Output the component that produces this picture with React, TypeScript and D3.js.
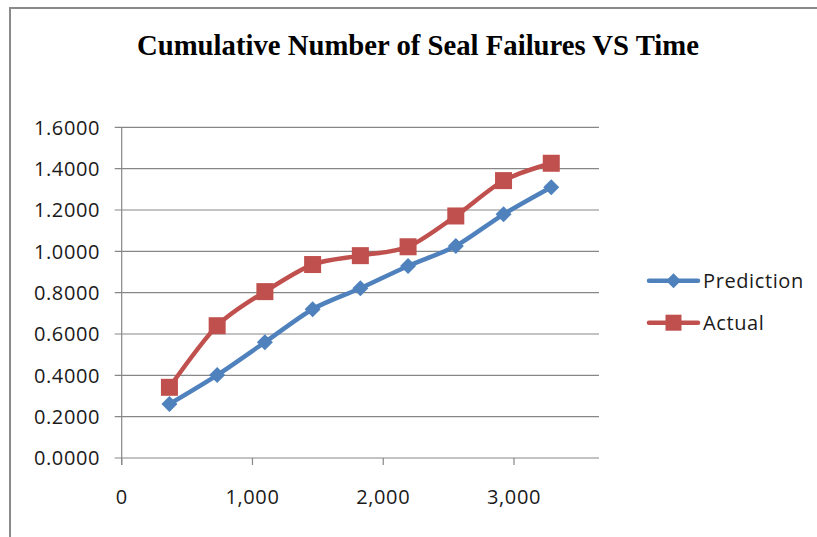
import React from "react";
import * as d3 from "d3";

const times = [365, 730, 1095, 1460, 1825, 2190, 2555, 2920, 3285];
const prediction = [0.261, 0.401, 0.56, 0.72, 0.821, 0.929, 1.026, 1.179, 1.31];
const actual = [0.342, 0.64, 0.805, 0.936, 0.979, 1.022, 1.171, 1.342, 1.426];
const xTicks = [0, 1000, 2000, 3000];
const yTicks = [0, 0.2, 0.4, 0.6, 0.8, 1.0, 1.2, 1.4, 1.6];
const seriesNames = ["Prediction", "Actual"];
const title = "Cumulative Number of Seal Failures VS Time";

const W = 817;
const H = 537;
const BLUE = "#4F81BD";
const RED = "#C0504D";
const GRID = "#878787";
const TEXT = "#1a1a1a";
const FONT = "'Open Sans', 'Noto Sans', sans-serif";

export default function App() {
  const x = d3.scaleLinear().domain([0, 3650]).range([121.7, 599]);
  const y = d3.scaleLinear().domain([0, 1.6]).range([458, 127.3]);
  const fmtX = d3.format(",");
  const fmtY = d3.format(".4f");

  const line = d3
    .line<[number, number]>()
    .x((d) => x(d[0]))
    .y((d) => y(d[1]))
    .curve(d3.curveCardinal.tension(0.15));

  const predPts: [number, number][] = times.map((t, i) => [t, prediction[i]]);
  const actPts: [number, number][] = times.map((t, i) => [t, actual[i]]);

  const diamond = (cx: number, cy: number, r: number) =>
    `M${cx},${cy - r}L${cx + r},${cy}L${cx},${cy + r}L${cx - r},${cy}Z`;

  const x0 = x(0);
  const y0 = y(0);

  return (
    <svg
      width={W}
      height={H}
      style={{ position: "absolute", left: 0, top: 0, background: "#fff" }}
    >
      <rect x={0} y={0} width={W} height={H} fill="#fff" />
      {/* chart frame */}
      <path d={`M10,${H + 5}L10,8L${W + 5},8`} fill="none" stroke="#8a8a8a" strokeWidth={2} />

      <text
        x={418}
        y={55}
        textAnchor="middle"
        fontFamily="'Liberation Serif', 'Times New Roman', serif"
        fontWeight="bold"
        fontSize={29}
        textLength={562}
        lengthAdjust="spacingAndGlyphs"
        fill="#000"
      >
        {title}
      </text>

      {/* gridlines and y ticks */}
      {yTicks.map((v) => (
        <g key={v}>
          <line x1={x0 - 7} x2={599} y1={y(v)} y2={y(v)} stroke={GRID} strokeWidth={1.2} />
          <text
            x={100}
            y={y(v)}
            dy="0.36em"
            textAnchor="end"
            fontFamily={FONT}
            fontSize={20}
            letterSpacing={0.6}
            fill={TEXT}
          >
            {fmtY(v)}
          </text>
        </g>
      ))}

      {/* y axis */}
      <line x1={x0} x2={x0} y1={y(1.6)} y2={y0 + 7} stroke={GRID} strokeWidth={1.2} />

      {/* x ticks */}
      {xTicks.map((v) => (
        <g key={v}>
          <line x1={x(v)} x2={x(v)} y1={y0} y2={y0 + 7} stroke={GRID} strokeWidth={1.2} />
          <text
            x={x(v)}
            y={504}
            textAnchor="middle"
            fontFamily={FONT}
            fontSize={20}
            letterSpacing={0.6}
            fill={TEXT}
          >
            {fmtX(v)}
          </text>
        </g>
      ))}

      {/* series */}
      <path d={line(predPts) || ""} fill="none" stroke={BLUE} strokeWidth={4.5} strokeLinejoin="round" />
      <path d={line(actPts) || ""} fill="none" stroke={RED} strokeWidth={4.5} strokeLinejoin="round" />
      {predPts.map((p, i) => (
        <path key={"p" + i} d={diamond(x(p[0]), y(p[1]), 8)} fill={BLUE} />
      ))}
      {actPts.map((p, i) => (
        <rect key={"a" + i} x={x(p[0]) - 8.5} y={y(p[1]) - 8.5} width={17} height={17} fill={RED} />
      ))}

      {/* legend */}
      {seriesNames.map((name, i) => {
        const ly = 280.7 + i * 42;
        const c = i === 0 ? BLUE : RED;
        return (
          <g key={name}>
            <line x1={649} x2={698} y1={ly} y2={ly} stroke={c} strokeWidth={4.5} strokeLinecap="round" />
            {i === 0 ? (
              <path d={diamond(673.5, ly, 7.5)} fill={c} />
            ) : (
              <rect x={665.5} y={ly - 8} width={16} height={16} fill={c} />
            )}
            <text
              x={703}
              y={ly}
              dy="0.36em"
              fontFamily={FONT}
              fontSize={20}
              letterSpacing={0.6}
              fill={TEXT}
            >
              {name}
            </text>
          </g>
        );
      })}
    </svg>
  );
}
